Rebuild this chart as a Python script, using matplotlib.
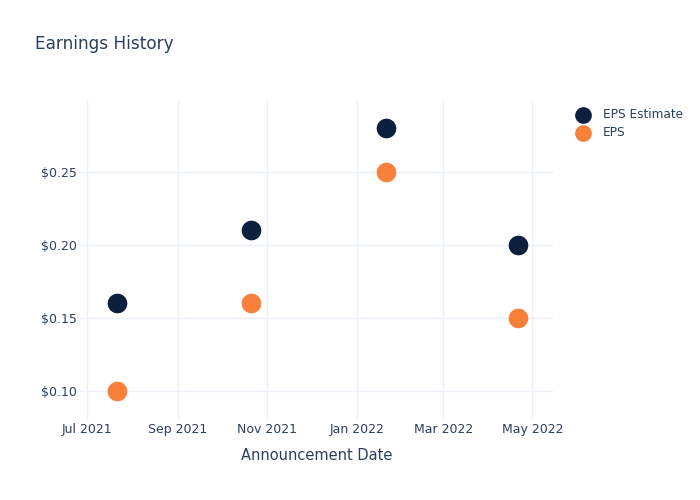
import matplotlib
matplotlib.use("Agg")
import matplotlib.pyplot as plt
import datetime as dt

dates = ["2021-07-21", "2021-10-21", "2022-01-21", "2022-04-21"]
eps_estimate = [0.16, 0.21, 0.28, 0.20]
eps_actual = [0.10, 0.16, 0.25, 0.15]
tick_dates = ["2021-07-01", "2021-09-01", "2021-11-01", "2022-01-01", "2022-03-01", "2022-05-01"]
tick_labels = ["Jul 2021", "Sep 2021", "Nov 2021", "Jan 2022", "Mar 2022", "May 2022"]
y_ticks = [0.10, 0.15, 0.20, 0.25]

def d(s):
    return dt.datetime.strptime(s, "%Y-%m-%d")

xd = [d(s) for s in dates]
txt = "#2a3f5f"
grid = "#ebf0f8"

fig = plt.figure(figsize=(7, 5), dpi=100)
ax = fig.add_axes([80/700, 80/500, 473/700, 320/500])
ax.set_facecolor("white")
for sp in ax.spines.values():
    sp.set_visible(False)

ax.scatter(xd, eps_estimate, s=200, color="#0d1f3f", label="EPS Estimate", zorder=3, linewidths=0)
ax.scatter(xd, eps_actual, s=200, color="#f7803a", label="EPS", zorder=3, linewidths=0)

ax.set_xlim(d("2021-06-26"), d("2022-05-15"))
ax.set_ylim(0.080, 0.299)
ax.set_xticks([d(s) for s in tick_dates])
ax.set_xticklabels(tick_labels)
ax.set_yticks(y_ticks)
ax.set_yticklabels(["$%.2f" % v for v in y_ticks])
ax.grid(True, color=grid, linewidth=1, zorder=0)
ax.tick_params(axis="both", length=0, colors=txt, labelsize=9)
ax.tick_params(axis="x", pad=2)
ax.tick_params(axis="y", pad=2)
ax.set_xlabel("Announcement Date", color=txt, fontsize=10.5, labelpad=9)

fig.text(35/700, 1 - 44/500, "Earnings History", color=txt, fontsize=12.2, va="center", ha="left")

leg = ax.legend(loc="upper left", bbox_to_anchor=(566/700, 1 - 103/500), bbox_transform=fig.transFigure,
                frameon=False, fontsize=8.7, labelcolor=txt, handletextpad=0.65, labelspacing=0.45,
                borderaxespad=0, markerscale=0.85)

fig.savefig("out.png", dpi=100)
